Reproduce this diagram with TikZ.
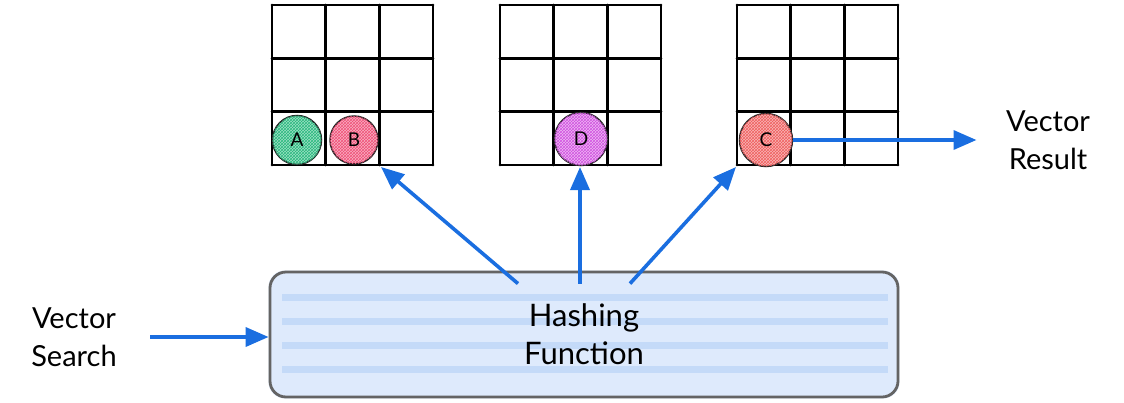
\documentclass[tikz,border=0pt]{standalone}
\usepackage{fontspec}
\setmainfont{Lato}
\usetikzlibrary{arrows.meta, positioning, patterns, backgrounds}
\definecolor{arrblue}{RGB}{26,110,224}
\definecolor{boxfill}{RGB}{222,234,252}
\definecolor{boxstripe}{RGB}{196,218,248}
\definecolor{boxline}{RGB}{100,100,100}
\definecolor{tokgreen}{RGB}{40,185,125}
\definecolor{tokpink}{RGB}{240,80,120}
\definecolor{tokviolet}{RGB}{210,80,225}
\definecolor{tokred}{RGB}{240,95,95}

\begin{document}
\begin{tikzpicture}[x=1pt,y=-1pt,
    gridline/.style={line width=2.9pt,line cap=round},
    token/.style={circle,draw=black!85,line width=1.5pt,minimum size=#1,
                  inner sep=0pt,font=\fontsize{19}{19}\selectfont},
    lbl/.style={align=center,font=\fontsize{29}{38}\selectfont},
    arr/.style={-{Triangle[length=23pt,width=19pt]},arrblue,line width=3.6pt}
]
  \useasboundingbox (0,0) rectangle (1124,402);

  % Three 3x3 buckets
  \foreach \gx in {272,500,737}{
    \foreach \i in {0,...,3}{
      \draw[gridline] (\gx+\i*53.67,5) -- (\gx+\i*53.67,165);
      \draw[gridline] (\gx,5+\i*53.33) -- (\gx+161,5+\i*53.33);
    }
  }

  % Hashed vectors
  \node[token=49pt,fill=tokgreen!45,postaction={pattern=crosshatch,pattern color=tokgreen}] (A) at (297,140) {A};
  \node[token=48pt,fill=tokpink!45,postaction={pattern=crosshatch,pattern color=tokpink}] (B) at (354,140) {B};
  \node[token=53pt,fill=tokviolet!40,postaction={pattern=crosshatch,pattern color=tokviolet}] (D) at (581,139) {D};
  \node[token=53pt,fill=tokred!45,postaction={pattern=crosshatch,pattern color=tokred}] (C) at (766,140) {C};

  % Hashing function box
  \node[draw=boxline,line width=2.8pt,rounded corners=16pt,minimum width=628pt,
        minimum height=125pt,lbl,font=\fontsize{31}{38}\selectfont] (hash) at (584,334.5) {Hashing\\Function};
  \begin{scope}[on background layer]
    \fill[boxfill,rounded corners=16pt] (hash.south west) rectangle (hash.north east);
    \foreach \sy in {297,321,345,369}
      \fill[boxstripe] (282,\sy-3.5) rectangle (888,\sy+3.5);
  \end{scope}

  % Side labels
  \node[lbl] (search) at (74,337) {Vector\\Search};
  \node[lbl] (result) at (1048,140) {Vector\\Result};

  % Bucket corners
  \coordinate (cornerB) at (381,167);
  \coordinate (cornerD) at (580,167);
  \coordinate (cornerC) at (736,167);

  % Arrows
  \draw[arr] ([xshift=30pt]search.east) -- (search.east -| hash.west);
  \draw[arr] ([xshift=-66pt,yshift=-13pt]hash.north) -- (cornerB);
  \draw[arr] ([xshift=-4pt,yshift=-13pt]hash.north) -- (cornerD);
  \draw[arr] ([xshift=46pt,yshift=-13pt]hash.north) -- (cornerC);
  \draw[arr,shorten >=26pt] (C.east) -- (result.west |- C.east);

\end{tikzpicture}
\end{document}
